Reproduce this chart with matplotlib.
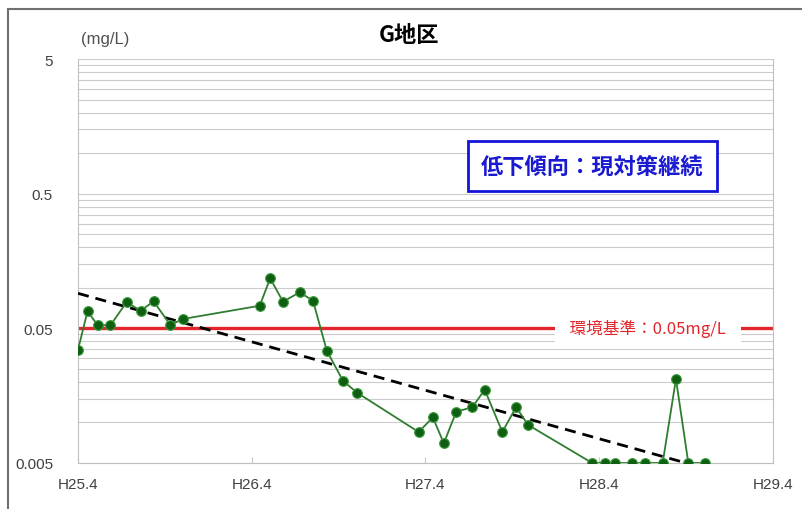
import pandas as pd
import matplotlib
matplotlib.use("Agg")
import matplotlib.pyplot as plt
import matplotlib.dates as mdates
import matplotlib.patches as patches
import numpy as np
from matplotlib.ticker import FixedLocator, NullFormatter

plt.rcParams['font.family'] = ['Liberation Sans', 'Noto Sans CJK JP', 'DejaVu Sans']

# Datos (mg/L)
fechas = ['2013-04-01', '2013-04-21', '2013-05-12', '2013-06-08', '2013-07-12',
          '2013-08-11', '2013-09-07', '2013-10-12', '2013-11-08',
          '2014-04-18', '2014-05-10', '2014-06-06', '2014-07-11', '2014-08-08',
          '2014-09-06', '2014-10-10', '2014-11-09',
          '2015-03-18', '2015-04-17', '2015-05-10', '2015-06-05', '2015-07-09',
          '2015-08-04', '2015-09-10', '2015-10-09', '2015-11-03',
          '2016-03-17', '2016-04-13', '2016-05-04', '2016-06-08', '2016-07-06',
          '2016-08-12', '2016-09-09', '2016-10-05', '2016-11-09']
valores = [0.0347, 0.0669, 0.053, 0.0526, 0.078,
           0.0676, 0.0794, 0.053, 0.0587,
           0.0736, 0.1176, 0.0788, 0.0926, 0.0802,
           0.0341, 0.0204, 0.0166,
           0.0085, 0.0109, 0.0070, 0.0120, 0.0130,
           0.0175, 0.0085, 0.0130, 0.0096,
           0.005, 0.005, 0.005, 0.005, 0.005,
           0.005, 0.021, 0.005, 0.005]

ticks_x = ['2013-04-01', '2014-04-01', '2015-04-01', '2016-04-01', '2017-04-01']
etiquetas_x = ['H25.4', 'H26.4', 'H27.4', 'H28.4', 'H29.4']
ticks_y = [0.005, 0.05, 0.5, 5]
etiquetas_y = ['0.005', '0.05', '0.5', '5']
norma = 0.05

df = pd.DataFrame({'fecha': pd.to_datetime(fechas), 'valor': valores})
xt = pd.to_datetime(ticks_x)

fig = plt.figure(figsize=(8.02, 5.10), dpi=100)
ax = fig.add_axes([78/802, 1-464/510, 695/802, 404/510])

# Líneas de cuadrícula (estilo Excel, escala log)
menores = []
for base in [0.005, 0.05, 0.5]:
    for k in range(2, 10):
        menores.append(base * k)
for v in menores + ticks_y:
    ax.axhline(v, color='#cccccc', lw=0.8, zorder=1)

# Norma ambiental
ax.axhline(norma, color='#e3262b', lw=2.4, zorder=2)
ax.text(0.82, norma, '  環境基準：0.05mg/L  ', transform=ax.get_yaxis_transform(),
        ha='center', va='center', color='#e3262b', fontsize=12,
        family=['Noto Sans CJK JP'], zorder=3,
        bbox=dict(facecolor='white', edgecolor='none', pad=5))

# Línea de tendencia exponencial
xn = mdates.date2num(df['fecha'])
coef = np.polyfit(xn, np.log(df['valor']), 1)
xx = np.array([xn[0], xn[-1]])
ax.plot(mdates.num2date(xx), np.exp(np.polyval(coef, xx)), color='black', lw=2,
        dashes=(4, 2.5), zorder=4)

# Serie
ax.plot(df['fecha'], df['valor'], color='#2f7d2f', lw=1.3, marker='o', markersize=7,
        markerfacecolor='#0e5f12', markeredgecolor='#3c9a3c', markeredgewidth=0.8, zorder=5)

ax.set_yscale('log')
ax.set_ylim(0.005, 5)
ax.set_xlim(xt[0], xt[-1])
ax.yaxis.set_major_locator(FixedLocator(ticks_y))
ax.set_yticklabels(etiquetas_y)
ax.yaxis.set_minor_formatter(NullFormatter())
ax.tick_params(axis='y', which='both', length=0, pad=18, labelsize=11, labelcolor='#404040')
ax.set_xticks(xt)
ax.set_xticklabels(etiquetas_x)
ax.tick_params(axis='x', length=4, direction='in', color='#c8c8c8', pad=10,
               labelsize=11, labelcolor='#404040')
for s in ax.spines.values():
    s.set_color('#c0c0c0')
    s.set_linewidth(0.8)
ax.spines['top'].set_visible(False)

ax.text(0.74, 0.735, '低下傾向：現対策継続', transform=ax.transAxes, ha='center', va='center',
        fontsize=16, fontweight='bold', color='#1a1ad0', family=['Noto Sans CJK JP'], zorder=6,
        bbox=dict(facecolor='white', edgecolor='#1414d8', linewidth=2, pad=9.5))

fig.text(409/802, 1-35/510, 'G地区', ha='center', va='center', fontsize=16,
         fontweight='bold', family=['Noto Sans CJK JP'])
fig.text(105/802, 1-40/510, '(mg/L)', ha='center', va='center', fontsize=12, color='#505050')

# Marco exterior
fig.add_artist(patches.Rectangle((8/802, -0.1), 1.2, 1.1 - 10/510, transform=fig.transFigure,
                                 fill=False, edgecolor='#707070', lw=1.5))

plt.savefig('out.png', dpi=100)
